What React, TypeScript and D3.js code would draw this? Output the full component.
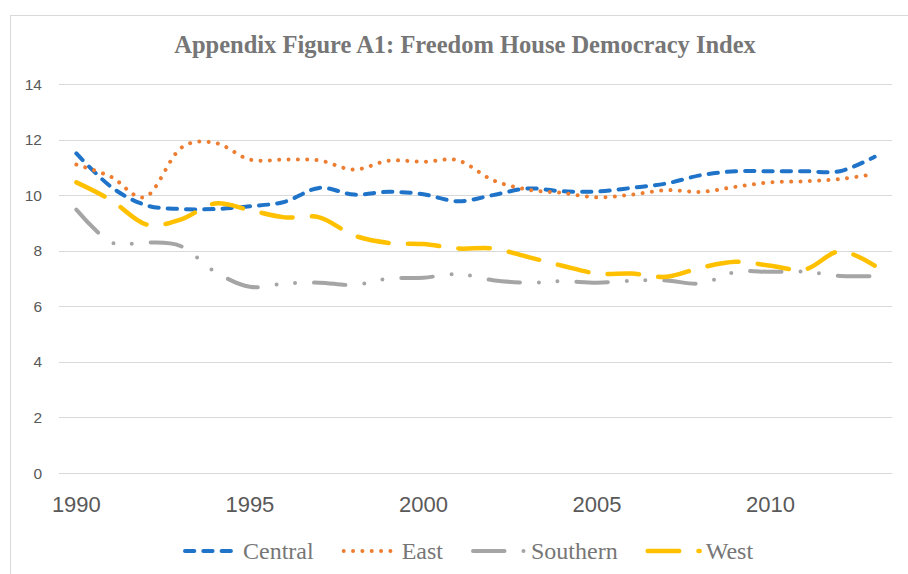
import React from "react";
import * as d3 from "d3";

const years = d3.range(1990, 2014);
const yTicks = [0, 2, 4, 6, 8, 10, 12, 14];
const xTickYears = [1990, 1995, 2000, 2005, 2010];

const central = [11.5, 10.3, 9.64, 9.5, 9.5, 9.6, 9.76, 10.26, 10.02, 10.12, 10.03, 9.78, 10.0, 10.24, 10.14, 10.13, 10.26, 10.42, 10.72, 10.86, 10.86, 10.86, 10.86, 11.38];
const east = [11.1, 10.66, 9.94, 11.68, 11.88, 11.28, 11.28, 11.25, 10.92, 11.24, 11.2, 11.25, 10.54, 10.2, 10.08, 9.92, 10.02, 10.18, 10.12, 10.3, 10.46, 10.5, 10.58, 10.76];
const southern = [9.48, 8.3, 8.3, 8.17, 7.24, 6.7, 6.82, 6.85, 6.77, 7.0, 7.03, 7.16, 6.94, 6.85, 6.9, 6.85, 6.92, 6.93, 6.82, 7.24, 7.24, 7.24, 7.09, 7.09];
const west = [10.46, 9.82, 8.95, 9.12, 9.7, 9.46, 9.2, 9.2, 8.55, 8.28, 8.24, 8.08, 8.08, 7.78, 7.46, 7.18, 7.18, 7.06, 7.39, 7.6, 7.46, 7.33, 7.98, 7.46];

const seriesNames = ["Central", "East", "Southern", "West"];
const seriesValues = [central, east, southern, west];

const styles = [
  { color: "#1F73C8", width: 4, dash: "9.3 9" },
  { color: "#ED7D31", width: 4, dash: "0.01 9.33" },
  { color: "#A5A5A5", width: 4, dash: "31.5 19 0 18.5 0 19" },
  { color: "#FFC000", width: 4.5, dash: "31.5 19.25" },
];

const W = 908;
const H = 574;
const plotLeft = 59;
const plotRight = 892;
const plotTop = 84;
const plotBottom = 473;

export default function App() {
  const x = d3
    .scaleBand<number>()
    .domain(years)
    .range([plotLeft, plotRight]);
  const xc = (yr: number) => (x(yr) as number) + x.bandwidth() / 2;
  const y = d3.scaleLinear().domain([0, 14]).range([plotBottom, plotTop]);

  const line = d3
    .line<number>()
    .x((_, i) => xc(years[i]))
    .y((v) => y(v))
    .curve(d3.curveCatmullRom.alpha(0));

  const legendFont = 24;
  const textWidths = [70.7, 41.3, 86.7, 49.3];
  const legendItems: { sx: number; tx: number }[] = [];
  let cursor = 185;
  textWidths.forEach((tw) => {
    legendItems.push({ sx: cursor, tx: cursor + 58 });
    cursor = cursor + 58 + tw + 30;
  });

  return (
    <svg
      width={W}
      height={H}
      style={{ position: "absolute", left: 0, top: 0, background: "#fff" }}
    >
      <rect x={10.5} y={15.5} width={W + 20} height={H + 20} fill="#fff" stroke="#D9D9D9" strokeWidth={1} />
      <text
        x={465}
        y={53}
        textAnchor="middle"
        fontFamily="'Liberation Serif', 'Times New Roman', serif"
        fontWeight="bold"
        fontSize={24.5}
        fill="#767676"
      >
        Appendix Figure A1: Freedom House Democracy Index
      </text>
      {yTicks.map((t) => (
        <g key={t}>
          <line x1={plotLeft} x2={plotRight} y1={Math.round(y(t)) + 0.5} y2={Math.round(y(t)) + 0.5} stroke="#D9D9D9" strokeWidth={1} />
          <text
            x={42}
            y={y(t) + 5.5}
            textAnchor="end"
            fontFamily="'Liberation Sans', Arial, sans-serif"
            fontSize={15.5}
            fill="#595959"
          >
            {t}
          </text>
        </g>
      ))}
      {xTickYears.map((yr) => (
        <text
          key={yr}
          x={xc(yr)}
          y={512}
          textAnchor="middle"
          fontFamily="'Liberation Sans', Arial, sans-serif"
          fontSize={22}
          fill="#595959"
        >
          {yr}
        </text>
      ))}
      {seriesValues.map((vals, i) => (
        <path
          key={seriesNames[i]}
          d={line(vals) || ""}
          fill="none"
          stroke={styles[i].color}
          strokeWidth={styles[i].width}
          strokeDasharray={styles[i].dash}
          strokeLinecap="round"
          strokeLinejoin="round"
        />
      ))}
      {seriesNames.map((name, i) => (
        <g key={name}>
          <line
            x1={legendItems[i].sx}
            x2={legendItems[i].sx + 52}
            y1={551}
            y2={551}
            stroke={styles[i].color}
            strokeWidth={styles[i].width}
            strokeDasharray={styles[i].dash}
            strokeLinecap="round"
          />
          <text
            x={legendItems[i].tx}
            y={559}
            fontFamily="'Liberation Serif', 'Times New Roman', serif"
            fontSize={legendFont}
            fill="#767676"
          >
            {name}
          </text>
        </g>
      ))}
    </svg>
  );
}
